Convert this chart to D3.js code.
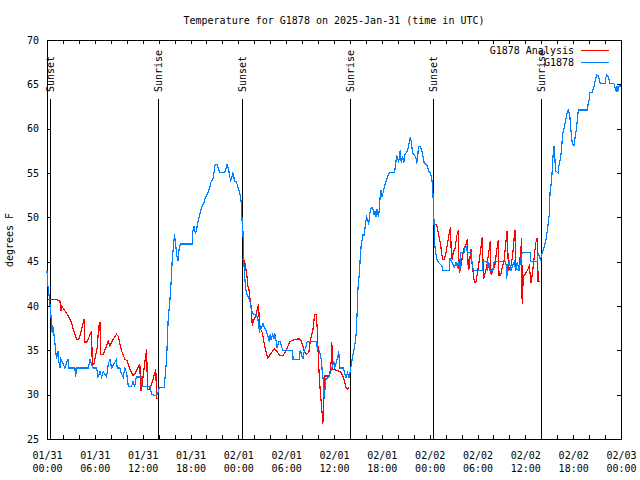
<!DOCTYPE html>
<html><head><meta charset="utf-8">
<script src="https://cdn.jsdelivr.net/npm/d3@7"></script>
<style>
body{margin:0;background:#fff}
svg{display:block}
text{font-family:"DejaVu Sans Mono","Liberation Mono",monospace;font-size:10px;fill:#000}
</style>
</head><body>
<svg id="c" width="640" height="480"></svg>
<script>
const titleText = "Temperature for G1878 on 2025-Jan-31 (time in UTC)";
const yLabelText = "degrees F";
const startTime = "2025-01-31T00:00:00Z";
const endTime = "2025-02-03T00:00:00Z";
const yTicks = [25, 30, 35, 40, 45, 50, 55, 60, 65, 70];
const minorTickHours = 2;
const labelTickHours = 6;
const seriesNames = ["G1878 Analysis", "G1878"];
const seriesColors = ["#ff0000", "#0080ff"];
const sunEventNames = ["Sunset", "Sunrise", "Sunset", "Sunrise", "Sunset", "Sunrise"];
const sunEventHours = [0.35, 13.93, 24.46, 38.0, 48.37, 61.92];

// [hours after start, °F]
const obsSeries = [
[0.0,43.9],[0.1,42.4],[0.3,40.9],[0.5,38.9],[0.65,37.0],[0.7,37.9],[0.9,36.6],[1.1,34.9],[1.2,34.0],[1.4,34.9],[1.5,33.6],[1.65,33.0],[1.75,34.0],[2.05,33.4],[2.25,33.0],[2.45,33.6],[2.67,34.0],[2.7,33.0],[3.5,33.0],[3.59,32.0],[3.7,33.0],[5.2,33.0],[5.38,34.0],[5.59,33.4],[5.8,33.0],[6.22,33.0],[6.4,32.0],[6.64,32.6],[6.85,32.0],[7.05,32.6],[7.47,32.0],[7.68,33.4],[7.89,34.0],[8.1,33.0],[8.72,34.0],[8.8,33.0],[9.14,33.0],[9.35,32.3],[9.56,32.0],[9.77,33.0],[9.98,32.5],[10.2,30.9],[10.6,30.9],[10.8,31.5],[11.0,30.9],[11.2,32.0],[11.85,32.0],[11.9,30.9],[12.9,30.9],[13.1,30.1],[13.5,29.9],[13.7,29.9],[13.9,30.2],[14.1,30.8],[14.7,30.8],[15.0,34.0],[15.2,38.5],
[15.4,40.4],[15.6,43.2],[15.7,45.1],[15.9,47.1],[16.0,48.1],[16.07,47.5],[16.15,46.8],[16.3,45.6],[16.45,45.1],[16.57,46.4],[16.74,47.0],[18.2,47.0],[18.3,48.5],[18.45,49.0],[18.6,48.2],[18.74,48.5],[18.95,49.6],[19.16,50.3],[19.37,51.1],[19.66,51.6],[19.8,52.1],[20.0,52.4],[20.2,52.8],[20.4,53.3],[20.53,53.9],[20.83,54.4],[21.04,55.6],[21.1,56.0],[21.33,56.0],[21.5,55.4],[21.66,55.1],[22.3,55.1],[22.5,55.6],[22.6,56.0],[22.8,55.3],[22.9,54.6],[23.04,54.2],[23.2,54.6],[23.3,55.1],[23.54,54.1],[23.75,54.0],[23.96,53.4],[24.17,52.7],[24.3,52.2],[24.4,51.3],[24.46,49.75],[24.59,48.25],[24.67,45.25],
[24.79,43.4],[24.92,41.9],[25.09,41.3],[25.3,40.9],[25.5,40.4],[25.7,39.4],[25.9,39.0],[26.25,39.0],[26.46,38.5],[26.67,37.0],[26.8,37.9],[26.88,37.5],[27.09,38.0],[27.3,37.5],[27.5,37.2],[27.7,36.6],[27.9,36.0],[28.0,36.8],[28.1,36.2],[28.3,36.8],[28.46,36.3],[28.55,37.0],[28.76,35.9],[28.84,35.3],[29.09,36.0],[29.26,36.0],[29.38,35.5],[29.6,35.0],[30.84,35.0],[30.85,34.0],[31.68,34.0],[31.76,35.0],[31.9,34.6],[32.1,34.0],[32.18,34.6],[32.3,35.0],[32.5,35.5],[32.65,36.0],[33.85,36.0],[33.9,35.0],[34.1,35.0],[34.2,34.8],[34.4,34.0],[34.5,32.9],[34.65,31.6],[34.77,29.5],[34.9,31.0],[35.0,31.8],[35.2,31.9],[35.4,32.1],[35.56,32.5],[35.85,33.3],[35.97,33.8],[36.1,33.1],[36.3,33.6],[36.5,34.4],[36.6,34.9],[36.7,33.0],[37.2,33.0],[37.3,32.5],[37.5,31.9],[37.7,32.5],[37.9,31.9],[38.15,33.3],[38.35,34.4],[38.6,35.5],[38.8,37.0],
[38.9,39.25],[39.0,41.9],[39.2,43.9],[39.3,45.6],[39.4,46.75],[39.5,47.3],[39.6,48.0],[39.8,48.0],[39.95,49.4],[40.1,50.0],[40.2,49.75],[40.35,49.2],[40.5,50.5],[40.66,51.06],[40.87,51.06],[41.0,50.3],[41.15,50.7],[41.28,50.05],[41.4,50.9],[41.57,50.05],[41.7,51.06],[41.8,52.56],[41.9,53.1],[42.0,52.3],[42.2,52.9],[42.4,53.7],[42.6,54.25],[42.8,54.8],[42.95,55.07],[43.6,55.07],[43.7,55.75],[43.8,56.5],[43.9,56.9],[44.1,56.3],[44.2,56.7],[44.3,57.6],[44.45,56.1],[44.6,56.9],[44.75,56.1],[44.9,57.06],[45.0,57.2],[45.25,57.6],[45.45,58.5],[45.6,59.1],[45.7,58.4],[45.87,57.2],[46.08,57.1],[46.3,56.6],[46.37,56.05],[46.5,56.9],[46.6,58.0],[46.83,58.0],[47.04,57.4],[47.2,56.7],[47.33,56.05],[47.5,56.05],[47.75,55.7],[47.87,55.2],[48.08,55.0],[48.25,54.4],[48.37,53.5],[48.46,51.6],[48.55,49.4],[48.62,47.1],[48.75,46.0],[48.92,45.25],[49.1,44.9],[49.33,44.7],[49.55,44.5],[49.6,44.0],[50.46,44.0],
[50.55,45.4],[50.7,45.06],[50.9,44.7],[51.1,44.4],[51.3,44.9],[51.5,44.3],[51.6,45.06],[51.8,44.1],[51.9,46.0],[52.3,46.0],[52.47,46.75],[52.6,46.75],[52.75,46.0],[53.2,46.0],[53.3,45.06],[53.47,44.0],[54.6,44.0],[54.61,45.0],[55.2,45.0],[55.26,44.0],[55.4,45.0],[55.56,44.0],[55.9,44.0],[56.1,45.0],[57.5,45.0],[57.6,44.6],[57.65,43.0],[57.8,44.6],[58.0,45.0],[58.2,44.0],[58.6,45.0],[58.8,44.0],[59.0,45.0],[59.2,44.0],[59.4,45.0],[59.6,46.0],[60.6,46.0],[60.61,45.0],[61.5,45.0],[61.6,46.0],[61.8,45.4],[61.9,45.25],[62.1,46.0],[62.35,46.6],[62.6,47.5],[62.77,48.6],[63.0,50.3],[63.1,52.75],[63.3,54.25],[63.4,55.75],[63.5,57.25],[63.6,58.0],[63.7,56.7],[63.8,55.2],[64.15,55.0],[64.2,55.75],[64.45,56.9],[64.6,58.4],[64.65,59.3],[64.86,60.06],[65.07,61.0],[65.27,61.94],[65.4,62.1],[65.57,61.56],[65.7,60.06],[65.9,58.2],[66.1,58.1],[66.2,58.75],[66.4,59.9],[66.5,60.8],[66.65,62.1],[67.8,62.1],[67.87,62.7],[68.0,63.25],[68.1,64.1],[68.4,64.1],[68.6,64.75],[68.8,65.5],[68.95,66.06],[69.15,65.95],[69.4,65.1],[70.0,65.1],[70.08,65.7],[70.2,66.06],[70.4,65.9],[70.6,65.1],[71.1,65.1],[71.3,64.5],[71.4,64.2],[71.5,64.75],[71.6,64.2],[71.8,64.9],[72.0,64.75]
];

// [hours after start, °F]; null marks a gap
const analysisSeries = [
[0.1,40.75],[1.0,40.75],[1.42,40.64],[1.63,40.49],[1.75,39.44],[1.84,40.0],[2.25,39.44],[2.67,38.875],[3.09,38.13],[3.3,37.375],[3.72,36.25],[4.0,36.25],[4.34,37.375],[4.67,38.575],[4.76,35.875],[4.97,35.875],[5.59,37.19],[5.68,33.44],[5.89,33.44],[6.1,34.375],[6.3,35.31],[6.5,37.75],[6.64,38.2],[6.72,34.56],[7.05,34.56],[7.47,35.5],[7.68,36.06],[7.89,35.5],[8.3,36.25],[8.72,36.8],[8.93,36.6],[9.35,34.94],[9.77,34.0],[10.06,33.8],[10.4,32.875],[10.8,32.125],[11.1,32.5],[11.65,33.44],[11.73,30.44],[11.85,30.44],[11.98,31.56],[12.27,33.625],[12.5,35.125],[12.6,30.625],[12.9,30.625],[13.3,31.75],[13.65,32.875],[13.74,29.575],[13.94,29.575],
[14.5,null],
[24.5,45.25],[24.78,45.06],[24.9,44.5],[25.07,43.4],[25.2,42.25],[25.33,41.9],[25.4,41.1],[25.5,40.75],[25.63,39.6],[25.75,37.75],[25.9,38.3],[26.25,39.06],[26.46,40.0],[26.55,40.1],[26.67,37.2],[26.8,37.4],[27.0,37.0],[27.09,36.6],[27.3,35.5],[27.5,34.75],[27.7,34.1],[27.9,34.4],[28.33,34.94],[28.55,35.2],[28.76,34.94],[29.17,34.45],[29.6,34.4],[30.0,34.94],[30.4,35.9],[30.6,36.06],[31.26,36.25],[31.68,36.3],[31.9,36.06],[32.3,34.8],[32.5,34.56],[32.85,34.75],[32.93,35.5],[33.1,36.4],[33.35,37.2],[33.56,39.06],[33.77,39.06],[33.9,37.4],[34.06,33.6],[34.27,30.44],[34.4,29.1],[34.5,28.0],[34.6,26.7],[34.73,29.5],[34.8,32.1],[35.4,32.1],[35.56,32.9],[35.65,33.8],[35.73,35.9],[35.8,32.9],[36.06,32.8],[36.48,32.7],[36.9,32.5],[37.1,32.1],[37.3,31.56],[37.5,30.8],[37.7,30.6],[37.9,30.8],
[40.0,null],
[48.55,49.26],[48.87,49.19],[49.04,48.44],[49.2,47.69],[49.4,46.75],[49.6,45.3],[49.8,45.25],[50.05,46.0],[50.25,47.1],[50.4,47.9],[50.6,48.9],[50.7,46.4],[50.8,45.25],[51.0,46.19],[51.2,46.56],[51.4,47.9],[51.6,48.6],[51.7,43.8],[51.85,44.1],[52.05,45.25],[52.26,46.4],[52.55,46.94],[52.7,47.5],[52.85,44.05],[52.97,44.3],[53.1,46.0],[53.2,46.4],[53.3,44.9],[53.6,42.7],[53.8,42.7],[54.0,43.75],[54.2,45.06],[54.4,46.4],[54.6,47.8],[54.75,43.0],[54.97,43.75],[55.2,44.7],[55.4,46.0],[55.6,47.3],[55.7,43.56],[55.97,44.1],[56.2,44.7],[56.4,46.2],[56.6,47.4],[56.7,43.4],[56.9,43.4],[57.1,44.3],[57.35,45.25],[57.55,47.1],[57.7,48.4],[57.9,44.05],[58.2,44.5],[58.4,45.6],[58.6,47.7],[58.7,48.6],[58.8,44.1],[59.2,44.1],[59.4,46.0],[59.55,47.7],[59.6,40.2],[59.75,43.4],[59.97,43.56],[60.3,44.1],[60.5,44.5],[60.7,42.6],[60.9,43.75],[61.1,45.4],[61.3,47.1],[61.5,47.7],[61.6,42.8],[61.8,42.8]
];

const svg = d3.select("#c");
const W = 640, H = 480;
const plot = {left: 47, right: 621, top: 40, bottom: 439};
const t0 = new Date(startTime), t1 = new Date(endTime);
const toDate = h => new Date(t0.getTime() + h * 3600e3);

const x = d3.scaleUtc().domain([t0, t1]).range([plot.left, plot.right]);
const y = d3.scaleLinear().domain([d3.min(yTicks), d3.max(yTicks)]).range([plot.bottom, plot.top]);

svg.append("rect").attr("width", W).attr("height", H).attr("fill", "#fff");

const minorTicks = d3.utcHour.every(minorTickHours).range(t0, new Date(t1.getTime() + 1));
const labelTicks = d3.utcHour.every(labelTickHours).range(t0, new Date(t1.getTime() + 1));

function cleanAxis(g) {
  g.select(".domain").remove();
  g.attr("font-family", null).attr("font-size", null);
  g.selectAll(".tick line").attr("stroke", "#000").attr("shape-rendering", "crispEdges");
  g.selectAll(".tick text").attr("fill", "#000");
}

svg.append("g").attr("transform", `translate(0,${plot.bottom})`)
  .call(d3.axisBottom(x).tickValues(minorTicks).tickSizeInner(-4).tickSizeOuter(0).tickFormat(""))
  .call(cleanAxis);
svg.append("g").attr("transform", `translate(0,${plot.top})`)
  .call(d3.axisTop(x).tickValues(minorTicks).tickSizeInner(-4).tickSizeOuter(0).tickFormat(""))
  .call(cleanAxis);
svg.append("g").attr("transform", `translate(${plot.left},0)`)
  .call(d3.axisLeft(y).tickValues(yTicks).tickSizeInner(-4).tickSizeOuter(0).tickPadding(8).tickFormat(d3.format("d")))
  .call(cleanAxis);
svg.append("g").attr("transform", `translate(${plot.right},0)`)
  .call(d3.axisRight(y).tickValues(yTicks).tickSizeInner(-4).tickSizeOuter(0).tickFormat(""))
  .call(cleanAxis);

const fmtDay = d3.utcFormat("%m/%d"), fmtTime = d3.utcFormat("%H:%M");
const xl = svg.append("g").attr("transform", `translate(0,${plot.bottom})`)
  .call(d3.axisBottom(x).tickValues(labelTicks).tickSize(0).tickFormat(""))
  .call(cleanAxis);
xl.selectAll(".tick text").each(function(d) {
  const t = d3.select(this).attr("dy", null).attr("y", null);
  t.append("tspan").attr("x", 0).attr("y", 19.5).text(fmtDay(d));
  t.append("tspan").attr("x", 0).attr("y", 32.5).text(fmtTime(d));
});

// frame
svg.append("rect").attr("x", plot.left).attr("y", plot.top)
  .attr("width", plot.right - plot.left).attr("height", plot.bottom - plot.top)
  .attr("fill", "none").attr("stroke", "#000").attr("shape-rendering", "crispEdges");

// sunrise / sunset markers
const sunG = svg.append("g");
sunEventHours.forEach((h, i) => {
  const sx = Math.round(x(toDate(h))) + 0.5;
  sunG.append("line").attr("x1", sx).attr("x2", sx).attr("y1", 99).attr("y2", plot.bottom)
    .attr("stroke", "#000").attr("stroke-width", 1);
  sunG.append("text").attr("transform", `translate(${sx + 3.5},92) rotate(-90)`)
    .attr("text-anchor", "start").text(sunEventNames[i]);
});

// data lines
const line = d3.line()
  .defined(d => d[1] != null)
  .x(d => x(toDate(d[0])))
  .y(d => y(d[1]));

svg.append("path").datum(analysisSeries).attr("d", line)
  .attr("fill", "none").attr("stroke", seriesColors[0]).attr("stroke-width", 1.2)
  .attr("shape-rendering", "crispEdges");
svg.append("path").datum(obsSeries).attr("d", line)
  .attr("fill", "none").attr("stroke", seriesColors[1]).attr("stroke-width", 1.2)
  .attr("shape-rendering", "crispEdges");

// title & y label
svg.append("text").attr("x", 334).attr("y", 24).attr("text-anchor", "middle").text(titleText);
svg.append("text").attr("transform", "translate(13,240) rotate(-90)").attr("text-anchor", "middle").text(yLabelText);

// legend
const legend = svg.append("g");
seriesNames.forEach((name, i) => {
  const ly = 50.5 + i * 12;
  legend.append("text").attr("x", 574).attr("y", ly + 3.5).attr("text-anchor", "end").text(name);
  legend.append("line").attr("x1", 581).attr("x2", 609).attr("y1", ly).attr("y2", ly)
    .attr("stroke", seriesColors[i]).attr("stroke-width", 1.1).attr("shape-rendering", "crispEdges");
});
</script>
</body></html>
